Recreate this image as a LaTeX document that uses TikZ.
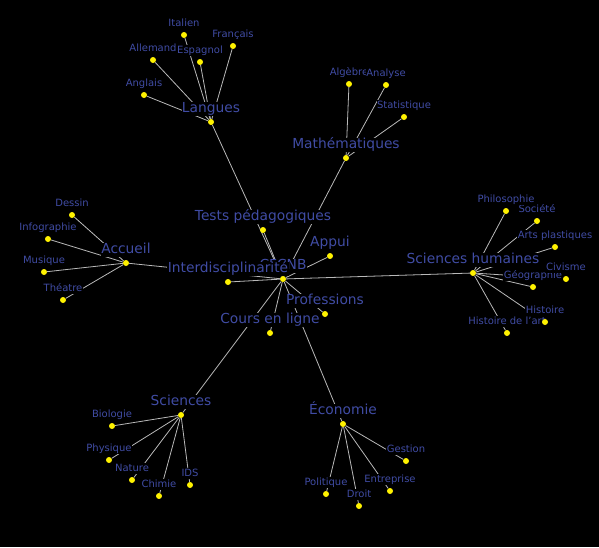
\documentclass[tikz,border=0pt]{standalone}
\usepackage{fontspec}
\setmainfont{DejaVu Sans}
\usepackage{xcolor}
\usepackage{tikz}
\usetikzlibrary{positioning}
\definecolor{labelblue}{RGB}{64,76,164}
\definecolor{linkgray}{RGB}{185,185,185}
\pgfdeclarelayer{bg}
\pgfdeclarelayer{fg}
\pgfsetlayers{bg,main,fg}

\begin{document}
\begin{tikzpicture}[x=1pt,y=-1pt,
  dot/.style={circle,fill=yellow,inner sep=0pt,minimum size=6pt},
  link/.style={linkgray,line width=0.8pt},
  tag/.style={fill=black,text=labelblue,inner sep=0.4pt},
  big/.style={tag,font=\fontsize{13.8}{15}\selectfont,text height=10.4pt,text depth=3pt},
  small/.style={tag,font=\fontsize{10}{12}\selectfont,text height=7.5pt,text depth=2.2pt}]
\begin{pgfonlayer}{bg}
 \fill[black] (0,0) rectangle (599,547);
\end{pgfonlayer}
\useasboundingbox (0,0) rectangle (599,547);

% yellow dots
\begin{pgfonlayer}{fg}
\foreach \n/\x/\y in {ccnb/283/279, lang/211/122, ital/184/35, alle/153/60,
    espa/200/62, fran/233/46, angl/144/95, math/346/158, alge/349/84,
    anal/386/85, stat/404/117, accu/126/263, dess/72/215, info/48/239,
    musi/44/272, thea/63/300, test/263/230, appu/330/256, inte/228/282,
    prof/325/314, cour/270/333, scih/473/273, philo/506/211, soci/537/221,
    arts/555/247, civi/566/279, geog/533/287, hist/545/322, hart/507/333,
    scie/181/415, biol/112/426, phys/109/460, natu/132/480, chim/159/496,
    ids/190/485, econ/343/424, gest/406/461, entr/390/491, poli/326/494,
    droi/359/506}
  \node[dot] (\n) at (\x,\y) {};
\end{pgfonlayer}

% links
\begin{pgfonlayer}{bg}
\foreach \a/\b in {ccnb/lang, ccnb/math, ccnb/accu, ccnb/test, ccnb/appu,
    ccnb/inte, ccnb/prof, ccnb/cour, ccnb/scih, ccnb/scie, ccnb/econ,
    lang/ital, lang/alle, lang/espa, lang/fran, lang/angl,
    math/alge, math/anal, math/stat,
    accu/dess, accu/info, accu/musi, accu/thea,
    scih/philo, scih/soci, scih/arts, scih/civi, scih/geog, scih/hist, scih/hart,
    scie/biol, scie/phys, scie/natu, scie/chim, scie/ids,
    econ/gest, econ/entr, econ/poli, econ/droi}
  \draw[link] (\a) -- (\b);
\end{pgfonlayer}

% labels
\foreach \n/\t in {ccnb/CFCNB, lang/Langues, math/Mathématiques, accu/Accueil,
    test/Tests pédagogiques, appu/Appui, inte/Interdisciplinarité,
    prof/Professions, cour/Cours en ligne, scih/Sciences humaines,
    scie/Sciences, econ/Économie}
  \node[big,above=2.4pt of \n] {\t};
\foreach \n/\t in {ital/Italien, alle/Allemand, espa/Espagnol, fran/Français,
    angl/Anglais, alge/Algèbre, anal/Analyse, stat/Statistique,
    dess/Dessin, info/Infographie, musi/Musique, thea/Théatre,
    soci/Société, philo/Philosophie, arts/Arts plastiques, geog/Géographie,
    civi/Civisme, hist/Histoire, hart/Histoire de l'art,
    biol/Biologie, phys/Physique, natu/Nature, chim/Chimie, ids/IDS,
    gest/Gestion, entr/Entreprise, poli/Politique, droi/Droit}
  \node[small,above=3pt of \n] {\t};
\end{tikzpicture}
\end{document}
